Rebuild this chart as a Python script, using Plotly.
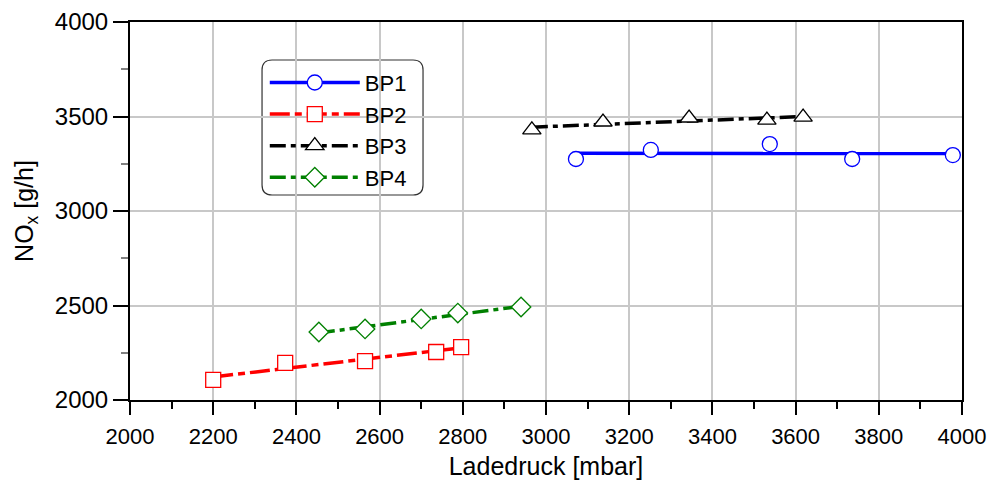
import numpy as np
import plotly.graph_objects as go

# ---- data ----
series_names = ["BP1", "BP2", "BP3", "BP4"]
bp1_x = [3072, 3252, 3538, 3736, 3978]
bp1_y = [3275, 3323, 3354, 3275, 3296]
bp2_x = [2200, 2373, 2565, 2736, 2796]
bp2_y = [2106, 2196, 2206, 2254, 2280]
bp3_x = [2966, 3137, 3344, 3531, 3618]
bp3_y = [3429, 3471, 3492, 3481, 3497]
bp4_x = [2454, 2565, 2700, 2788, 2940]
bp4_y = [2360, 2376, 2429, 2460, 2492]

x_ticks = [2000, 2200, 2400, 2600, 2800, 3000, 3200, 3400, 3600, 3800, 4000]
y_ticks = [2000, 2500, 3000, 3500, 4000]

# ---- styles ----
FONT = "Arial, 'Liberation Sans', sans-serif"
styles = [
    dict(color="#0000ff", dash="solid", symbol="circle", size=15),
    dict(color="#ff0000", dash="20px,5px,7px,5px", symbol="square", size=15),
    dict(color="#000000", dash="16px,5px,5px,5px", symbol="triangle-up", size=16),
    dict(color="#008000", dash="16px,5px,5px,5px", symbol="diamond", size=15),
]
data = [(bp1_x, bp1_y), (bp2_x, bp2_y), (bp3_x, bp3_y), (bp4_x, bp4_y)]

fig = go.Figure()

# regression (trend) lines
for (xs, ys), st in zip(data, styles):
    k, d = np.polyfit(xs, ys, 1)
    xl = [min(xs), max(xs)]
    yl = [k * v + d for v in xl]
    fig.add_trace(go.Scatter(x=xl, y=yl, mode="lines", showlegend=False,
                             line=dict(color=st["color"], width=3.5, dash=st["dash"]),
                             hoverinfo="skip"))

# measured points
for (xs, ys), st, name in zip(data, styles, series_names):
    fig.add_trace(go.Scatter(x=xs, y=ys, mode="markers", showlegend=False, name=name,
                             marker=dict(symbol=st["symbol"], size=st["size"], color="white",
                                         line=dict(color=st["color"], width=1.3))))

# legend entries
for st, name in zip(styles, series_names):
    fig.add_trace(go.Scatter(x=[None], y=[None], mode="lines+markers", name=name,
                             line=dict(color=st["color"], width=3.5, dash=st["dash"]),
                             marker=dict(symbol=st["symbol"], size=st["size"], color="white",
                                         line=dict(color=st["color"], width=1.3))))

# rounded legend box (paper coords)
x0, x1, y0, y1 = 0.1587, 0.3522, 0.5423, 0.8995
rx, ry = 10 / 832, 10 / 378
path = (f"M {x0+rx},{y1} L {x1-rx},{y1} Q {x1},{y1} {x1},{y1-ry} "
        f"L {x1},{y0+ry} Q {x1},{y0} {x1-rx},{y0} L {x0+rx},{y0} "
        f"Q {x0},{y0} {x0},{y0+ry} L {x0},{y1-ry} Q {x0},{y1} {x0+rx},{y1} Z")
fig.add_shape(type="path", path=path, xref="paper", yref="paper",
              line=dict(color="#333333", width=1.2), fillcolor="white", layer="below")

axis_common = dict(showline=True, linecolor="black", linewidth=2, mirror=True,
                   showgrid=True, gridcolor="#c8c8c8", gridwidth=1.6,
                   ticks="outside", tickcolor="black", tickwidth=1.5,
                   zeroline=False, automargin=False)

fig.update_xaxes(range=[2000, 4000], tickvals=x_ticks, ticklen=13,
                 tickfont=dict(family=FONT, size=22, color="black"),
                 ticklabelstandoff=3,
                 minor=dict(dtick=100, ticks="outside", ticklen=7, tickcolor="black", showgrid=False),
                 title=dict(text="Ladedruck [mbar]", font=dict(family=FONT, size=25, color="black"),
                            standoff=9),
                 **axis_common)
fig.update_yaxes(range=[2000, 4000], tickvals=y_ticks, ticklen=15,
                 tickfont=dict(family=FONT, size=24, color="black"),
                 minor=dict(dtick=250, ticks="outside", ticklen=7, tickcolor="#808080", showgrid=False),
                 title=dict(text="NO<sub>x</sub> [g/h]", font=dict(family=FONT, size=25, color="black"),
                            standoff=14),
                 **axis_common)

fig.update_layout(
    width=995, height=483,
    margin=dict(l=130, r=33, t=22, b=83),
    plot_bgcolor="white", paper_bgcolor="white",
    font=dict(family=FONT, color="black"),
    legend=dict(x=0.162, y=0.895, xanchor="left", yanchor="top",
                bgcolor="rgba(0,0,0,0)", borderwidth=0,
                font=dict(family=FONT, size=22, color="black"),
                itemwidth=90, tracegroupgap=0),
    showlegend=True,
)

fig.write_html("out.html")
